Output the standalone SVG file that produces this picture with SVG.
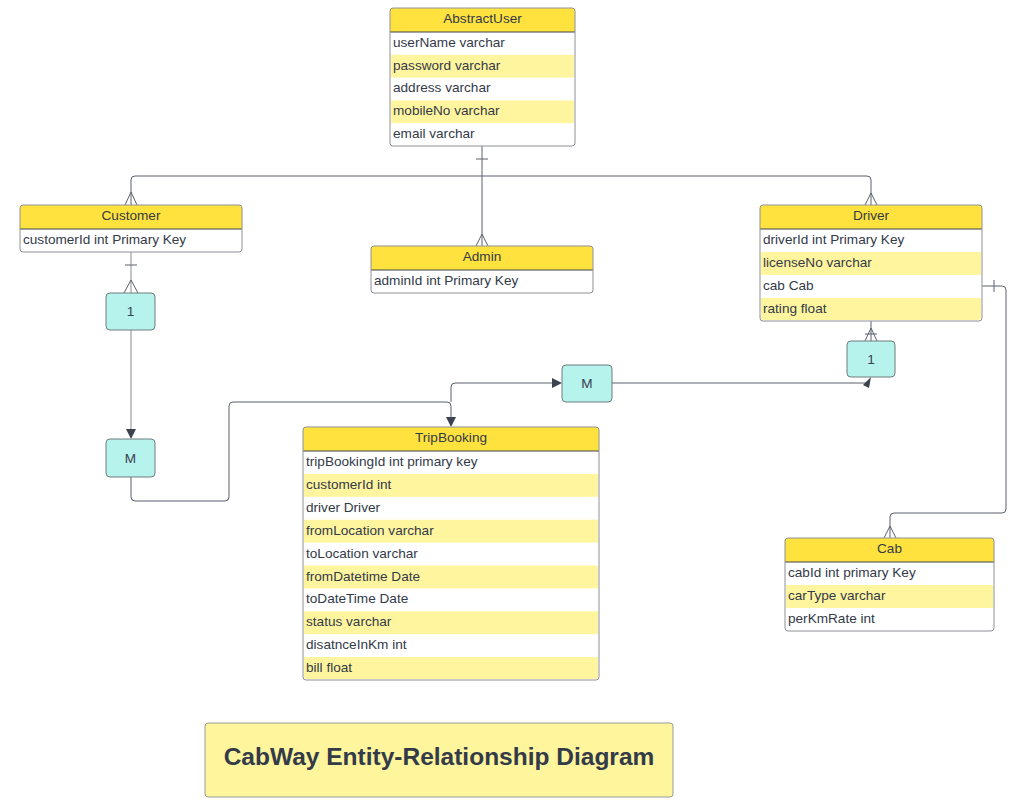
<svg xmlns="http://www.w3.org/2000/svg" width="1023" height="807" viewBox="0 0 1023 807">
  <style>
    .frame { fill: none; stroke: #8e9096; stroke-width: 1; }
    .body { fill: #ffffff; }
    .head { fill: #ffe23e; }
    .alt { fill: #fff59f; }
    .rule { stroke: #3d4250; stroke-width: 1; }
    .title { font-family: "Liberation Sans", Arial, sans-serif; font-size: 13.6px; fill: #333a48; text-anchor: middle; }
    .attr { font-family: "Liberation Sans", Arial, sans-serif; font-size: 13.6px; fill: #333a48; }
    .card { fill: #b6f3ec; stroke: #6f7c80; stroke-width: 1; }
    .cardtxt { font-family: "Liberation Sans", Arial, sans-serif; font-size: 13.6px; fill: #3a4050; text-anchor: middle; }
    .link { fill: none; stroke: #5b606c; stroke-width: 1; }
    .soft { fill: none; stroke: #b4b6bd; stroke-width: 1.6; }
    .notch { fill: none; stroke: #5b606c; stroke-width: 1; }
    .banner { fill: #fff59d; stroke: #9a9a9a; stroke-width: 1; }
    .bannertxt { font-family: "Liberation Sans", Arial, sans-serif; font-size: 24.5px; font-weight: bold; fill: #333a48; text-anchor: middle; }
  </style>

  <!-- connectors -->
  <g id="connectors">
    <!-- AbstractUser to subtypes -->
    <path class="link" d="M482,146 V176"/>
    <path class="notch" d="M476,159 H488"/>
    <path class="link" d="M482,176 H135 Q131,176 131,180 V205"/>
    <path class="notch" d="M125,205 L131,192 L137,205"/>
    <path class="link" d="M482,176 H867 Q871,176 871,180 V205"/>
    <path class="notch" d="M865,205 L871,193 L877,205"/>
    <path class="link" d="M482,176 V246"/>
    <path class="notch" d="M476,246 L482,234 L488,246"/>

    <!-- Customer to cardinality 1 -->
    <path class="soft" d="M131,252 V293"/>
    <path class="notch" d="M125,265 H137"/>
    <path class="notch" d="M124,293 L131,280 L138,293"/>

    <!-- cardinality 1 to M -->
    <path class="soft" d="M131,330 V430"/>
    <path d="M126,429 L131,439 L136,429 Z" fill="#3d4250"/>

    <!-- M to TripBooking -->
    <path class="link" d="M131,477 V497 Q131,501 135,501 H225 Q229,501 229,497 V406 Q229,402 233,402 H447 Q451,402 451,406 V417"/>
    <path d="M446,417 L451,427 L456,417 Z" fill="#3d4250"/>

    <!-- TripBooking to M (driver side) -->
    <path class="link" d="M451,402 V387 Q451,383 455,383 H552"/>
    <path d="M552,378 L562,383 L552,388 Z" fill="#3d4250"/>

    <!-- M to driver cardinality 1 -->
    <path class="link" d="M612,383 H866"/>
    <path d="M863,385 L871,377 L869,388 Z" fill="#3d4250"/>

    <!-- Driver to cardinality 1 -->
    <path class="link" d="M871,321 V341"/>
    <path class="notch" d="M865,334 H877"/>
    <path class="notch" d="M865,341 L871,328 L877,341"/>

    <!-- Driver to Cab -->
    <path class="link" d="M982,286 H1002 Q1006,286 1006,290 V509 Q1006,513 1002,513 H894 Q890,513 890,517 V538"/>
    <path class="notch" d="M994,280 V292"/>
    <path class="notch" d="M884,538 L890,526 L896,538"/>
  </g>

  <!-- AbstractUser -->
  <g id="abstract-user">
    <rect class="body" x="390" y="8" width="185" height="138" rx="3"/>
    <path class="head" d="M390,32 V11 Q390,8 393,8 H572 Q575,8 575,11 V32 Z"/>
    <rect class="alt" x="391" y="54.8" width="183" height="22.8"/>
    <rect class="alt" x="391" y="100.4" width="183" height="22.8"/>
    <line class="rule" x1="390" y1="32" x2="575" y2="32"/>
    <rect class="frame" x="390" y="8" width="185" height="138" rx="3"/>
    <text class="title" x="482.5" y="23">AbstractUser</text>
    <text class="attr" x="393" y="46.8">userName varchar</text>
    <text class="attr" x="393" y="69.6">password varchar</text>
    <text class="attr" x="393" y="92.4">address varchar</text>
    <text class="attr" x="393" y="115.2">mobileNo varchar</text>
    <text class="attr" x="393" y="138">email varchar</text>
  </g>

  <!-- Customer -->
  <g id="customer">
    <rect class="body" x="20" y="205" width="222" height="47" rx="3"/>
    <path class="head" d="M20,229 V208 Q20,205 23,205 H239 Q242,205 242,208 V229 Z"/>
    <line class="rule" x1="20" y1="229" x2="242" y2="229"/>
    <rect class="frame" x="20" y="205" width="222" height="47" rx="3"/>
    <text class="title" x="131" y="220">Customer</text>
    <text class="attr" x="23" y="244">customerId int Primary Key</text>
  </g>

  <!-- Admin -->
  <g id="admin">
    <rect class="body" x="371" y="246" width="222" height="47" rx="3"/>
    <path class="head" d="M371,270 V249 Q371,246 374,246 H590 Q593,246 593,249 V270 Z"/>
    <line class="rule" x1="371" y1="270" x2="593" y2="270"/>
    <rect class="frame" x="371" y="246" width="222" height="47" rx="3"/>
    <text class="title" x="482" y="261">Admin</text>
    <text class="attr" x="374" y="285">adminId int Primary Key</text>
  </g>

  <!-- Driver -->
  <g id="driver">
    <rect class="body" x="760" y="205" width="222" height="116" rx="3"/>
    <path class="head" d="M760,229 V208 Q760,205 763,205 H979 Q982,205 982,208 V229 Z"/>
    <rect class="alt" x="761" y="252" width="220" height="23"/>
    <path class="alt" d="M761,298 H981 V317 Q981,320 978,320 H764 Q761,320 761,317 Z"/>
    <line class="rule" x1="760" y1="229" x2="982" y2="229"/>
    <rect class="frame" x="760" y="205" width="222" height="116" rx="3"/>
    <text class="title" x="871" y="220">Driver</text>
    <text class="attr" x="763" y="244">driverId int Primary Key</text>
    <text class="attr" x="763" y="267">licenseNo varchar</text>
    <text class="attr" x="763" y="290">cab Cab</text>
    <text class="attr" x="763" y="313">rating float</text>
  </g>

  <!-- TripBooking -->
  <g id="trip-booking">
    <rect class="body" x="303" y="427" width="296" height="253" rx="3"/>
    <path class="head" d="M303,451 V430 Q303,427 306,427 H596 Q599,427 599,430 V451 Z"/>
    <rect class="alt" x="304" y="473.9" width="294" height="22.9"/>
    <rect class="alt" x="304" y="519.7" width="294" height="22.9"/>
    <rect class="alt" x="304" y="565.5" width="294" height="22.9"/>
    <rect class="alt" x="304" y="611.3" width="294" height="22.9"/>
    <path class="alt" d="M304,657.1 H598 V676 Q598,679 595,679 H307 Q304,679 304,676 Z"/>
    <line class="rule" x1="303" y1="451" x2="599" y2="451"/>
    <rect class="frame" x="303" y="427" width="296" height="253" rx="3"/>
    <text class="title" x="451" y="442">TripBooking</text>
    <text class="attr" x="306" y="466">tripBookingId int primary key</text>
    <text class="attr" x="306" y="488.9">customerId int</text>
    <text class="attr" x="306" y="511.8">driver Driver</text>
    <text class="attr" x="306" y="534.7">fromLocation varchar</text>
    <text class="attr" x="306" y="557.6">toLocation varchar</text>
    <text class="attr" x="306" y="580.5">fromDatetime Date</text>
    <text class="attr" x="306" y="603.4">toDateTime Date</text>
    <text class="attr" x="306" y="626.3">status varchar</text>
    <text class="attr" x="306" y="649.2">disatnceInKm int</text>
    <text class="attr" x="306" y="672.1">bill float</text>
  </g>

  <!-- Cab -->
  <g id="cab">
    <rect class="body" x="785" y="538" width="209" height="93" rx="3"/>
    <path class="head" d="M785,562 V541 Q785,538 788,538 H991 Q994,538 994,541 V562 Z"/>
    <rect class="alt" x="786" y="585" width="207" height="23"/>
    <line class="rule" x1="785" y1="562" x2="994" y2="562"/>
    <rect class="frame" x="785" y="538" width="209" height="93" rx="3"/>
    <text class="title" x="889.5" y="553">Cab</text>
    <text class="attr" x="788" y="577">cabId int primary Key</text>
    <text class="attr" x="788" y="600">carType varchar</text>
    <text class="attr" x="788" y="623">perKmRate int</text>
  </g>

  <!-- cardinality markers -->
  <g id="card-customer-one">
    <rect class="card" x="106" y="293" width="49" height="37" rx="4"/>
    <text class="cardtxt" x="130.5" y="316">1</text>
  </g>
  <g id="card-customer-many">
    <rect class="card" x="106" y="439" width="49" height="38" rx="4"/>
    <text class="cardtxt" x="130.5" y="462.5">M</text>
  </g>
  <g id="card-driver-many">
    <rect class="card" x="562" y="365" width="50" height="37" rx="4"/>
    <text class="cardtxt" x="587" y="388">M</text>
  </g>
  <g id="card-driver-one">
    <rect class="card" x="847" y="341" width="48" height="36" rx="4"/>
    <text class="cardtxt" x="871" y="363.5">1</text>
  </g>

  <!-- caption -->
  <g id="caption">
    <rect class="banner" x="205" y="723" width="468" height="74" rx="3"/>
    <text class="bannertxt" x="439" y="765">CabWay Entity-Relationship Diagram</text>
  </g>
</svg>
